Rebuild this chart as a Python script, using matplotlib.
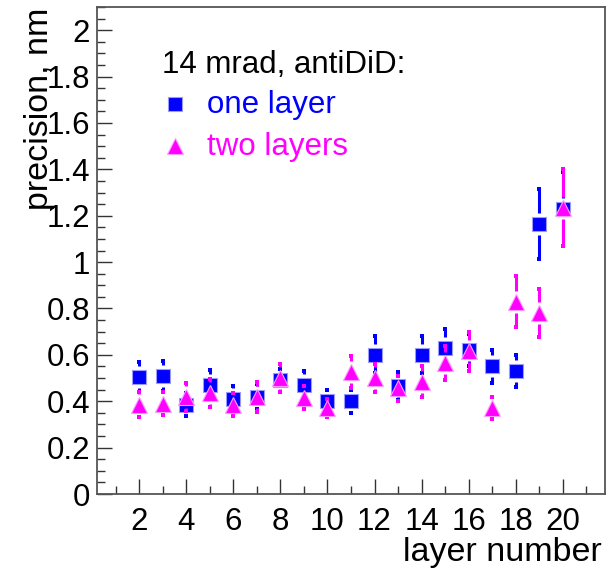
import numpy as np
import matplotlib
matplotlib.use("Agg")
import matplotlib.pyplot as plt
from matplotlib.ticker import MultipleLocator, FuncFormatter

plt.rcParams['font.family'] = ['Liberation Sans', 'DejaVu Sans']

layers = np.arange(2, 21)

one_layer = [0.505, 0.51, 0.385, 0.47, 0.41, 0.42, 0.49, 0.47, 0.40, 0.40,
             0.60, 0.465, 0.60, 0.63, 0.62, 0.55, 0.53, 1.165, 1.23]
one_layer_err = [0.065, 0.065, 0.05, 0.065, 0.055, 0.055, 0.05, 0.06, 0.05, 0.05,
                 0.08, 0.06, 0.08, 0.08, 0.07, 0.07, 0.07, 0.15, 0.16]

two_layers = [0.385, 0.39, 0.42, 0.435, 0.385, 0.42, 0.50, 0.415, 0.37, 0.525,
              0.50, 0.455, 0.485, 0.565, 0.615, 0.37, 0.83, 0.78, 1.235]
two_layers_err = [0.055, 0.05, 0.06, 0.06, 0.05, 0.065, 0.06, 0.05, 0.04, 0.07,
                  0.06, 0.055, 0.065, 0.075, 0.085, 0.048, 0.11, 0.105, 0.165]

BLUE = '#0000ff'
MAGENTA = '#ff00ff'


def draw_series(ax, x, y, err, color, marker, ms, edge, z):
    y = np.asarray(y)
    err = np.asarray(err)
    # pixel size of one data unit, to leave a gap around the marker
    p0 = ax.transData.transform((0, 0))[1]
    p1 = ax.transData.transform((0, 1))[1]
    gap = 11.0 / (p1 - p0)
    for xi, yi, ei in zip(x, y, err):
        if ei > gap:
            ax.vlines(xi, yi + gap, yi + ei, color=color, lw=2.2, zorder=z)
            ax.vlines(xi, yi - ei, yi - gap, color=color, lw=2.2, zorder=z)
    ax.plot(x, y + err, ls='none', marker='s', ms=3.2, color=color, mew=0, zorder=z)
    ax.plot(x, y - err, ls='none', marker='s', ms=3.2, color=color, mew=0, zorder=z)
    ax.plot(x, y, ls='none', marker=marker, ms=ms, color=color,
            mec=edge, mew=0.8, zorder=z + 0.5)


fig = plt.figure(figsize=(6.11, 5.69), dpi=100)
ax = fig.add_axes([97 / 611, 75 / 569, 508 / 611, 487 / 569])

ax.set_xlim(0.2, 21.8)
ax.set_ylim(0, 2.1)

draw_series(ax, layers, one_layer, one_layer_err, BLUE, 's', 10.5, '#9a9aff', 3)
draw_series(ax, layers, two_layers, two_layers_err, MAGENTA, '^', 11.5, '#ff9aff', 4)

ax.xaxis.set_major_locator(MultipleLocator(2))
ax.xaxis.set_minor_locator(MultipleLocator(1))
ax.yaxis.set_major_locator(MultipleLocator(0.2))
ax.yaxis.set_minor_locator(MultipleLocator(0.05))
ax.xaxis.set_major_formatter(FuncFormatter(lambda v, p: '%g' % round(v, 3)))
ax.yaxis.set_major_formatter(FuncFormatter(lambda v, p: '%g' % round(v, 3)))

ax.tick_params(which='both', direction='in', top=False, right=False,
               color='#333333', width=1.0, labelsize=22.5)
ax.tick_params(which='major', length=10.5)
ax.tick_params(which='minor', length=5.5)
ax.tick_params(axis='x', which='major', pad=9)
ax.tick_params(axis='y', which='major', pad=5)
for s in ax.spines.values():
    s.set_color('#555555')
    s.set_linewidth(1.3)

fig.text(40 / 611, 1 - 8 / 569, 'precision, nm', rotation=90, ha='center', va='top',
         fontsize=24.5)
fig.text(602 / 611, 1 - 561 / 569, 'layer number', ha='right', va='baseline',
         fontsize=24.5)

# legend block
def axfrac(px, py):
    return (px - 97) / 508, (494 - py) / 487

ax.text(*axfrac(162, 73), '14 mrad, antiDiD:', ha='left', va='baseline',
        fontsize=22.5, transform=ax.transAxes)
ax.plot(*axfrac(175, 104), marker='s', ms=10.5, color=BLUE, mec='#9a9aff',
        mew=0.8, transform=ax.transAxes, clip_on=False)
ax.text(*axfrac(207, 113), 'one layer', ha='left', va='baseline', color=BLUE,
        fontsize=22.5, transform=ax.transAxes)
ax.plot(*axfrac(175, 146), marker='^', ms=11.5, color=MAGENTA, mec='#ff9aff',
        mew=0.8, transform=ax.transAxes, clip_on=False)
ax.text(*axfrac(207, 155), 'two layers', ha='left', va='baseline', color=MAGENTA,
        fontsize=22.5, transform=ax.transAxes)

fig.savefig('out.png', dpi=100)
